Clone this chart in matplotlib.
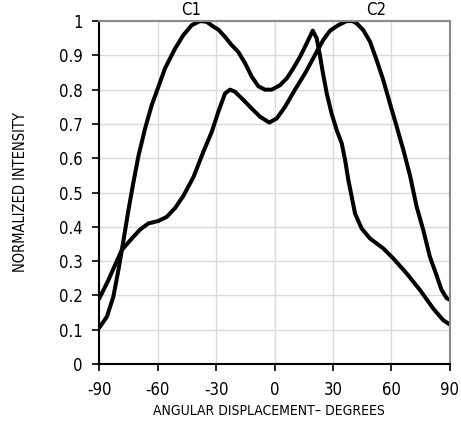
import matplotlib
matplotlib.use("Agg")
import matplotlib.pyplot as plt

plt.rcParams['font.family'] = ['DejaVu Sans']
plt.rcParams['font.stretch'] = 'condensed'
plt.rcParams['axes.unicode_minus'] = False

# angle (deg) and normalized intensity
c1_x = [-90, -86, -82.7, -80.1, -77.5, -75, -72.4, -69.8, -66.4, -63, -59.6, -56.2, -51,
        -46.8, -42.5, -38.2, -34.8, -31.4, -28.8, -25.4, -22, -18.6, -15.1, -11.7, -8.3,
        -4.9, -1.4, 2.8, 6.3, 9.6, 13.1, 16.5, 19.6, 21.6, 23.3, 25, 26.8, 29.3, 31.9,
        34.5, 36.2, 37.9, 39.6, 41.3, 44.7, 49, 55.8, 60.9, 67.8, 74.6, 81.4, 86.5, 90]
c1_y = [0.105, 0.138, 0.196, 0.274, 0.361, 0.447, 0.53, 0.607, 0.687, 0.755, 0.808, 0.862,
        0.92, 0.959, 0.988, 1.0, 0.998, 0.984, 0.975, 0.954, 0.93, 0.91, 0.877, 0.838,
        0.81, 0.80, 0.80, 0.813, 0.833, 0.862, 0.896, 0.935, 0.972, 0.95, 0.90, 0.843,
        0.789, 0.73, 0.682, 0.643, 0.595, 0.536, 0.488, 0.439, 0.395, 0.366, 0.337,
        0.308, 0.264, 0.216, 0.162, 0.128, 0.115]

c2_x = [-90, -85.2, -81.8, -78.4, -73.2, -69, -64.7, -59.6, -55.3, -51, -46.8, -41.6,
        -36.5, -32.2, -28.8, -25.4, -22.8, -20.3, -16, -11.7, -7.4, -2.7, 1.1, 5.4, 10.5,
        15.6, 21.6, 25, 28.5, 32.7, 37, 40, 42.2, 45.5, 49, 52.4, 55.8, 59.2, 62.7, 66.1,
        69.5, 72.9, 76.3, 79.7, 83.1, 85.7, 88.3, 90]
c2_y = [0.19, 0.245, 0.289, 0.332, 0.366, 0.392, 0.41, 0.417, 0.429, 0.455, 0.49, 0.545,
        0.619, 0.677, 0.736, 0.789, 0.80, 0.794, 0.77, 0.745, 0.721, 0.704, 0.716, 0.75,
        0.80, 0.847, 0.91, 0.945, 0.972, 0.988, 1.0, 1.0, 0.993, 0.974, 0.94, 0.886,
        0.828, 0.76, 0.692, 0.624, 0.55, 0.459, 0.391, 0.313, 0.259, 0.216, 0.192, 0.187]

xticks = [-90, -60, -30, 0, 30, 60, 90]
yticks = [0, 0.1, 0.2, 0.3, 0.4, 0.5, 0.6, 0.7, 0.8, 0.9, 1]
ylabels = ['0', '0.1', '0.2', '0.3', '0.4', '0.5', '0.6', '0.7', '0.8', '0.9', '1']

fig = plt.figure(figsize=(4.61, 4.30), dpi=100)
ax = fig.add_axes([0.215, 0.1535, 0.761, 0.7975])

ax.plot(c1_x, c1_y, color='black', lw=2.9, solid_joinstyle='round', solid_capstyle='round')
ax.plot(c2_x, c2_y, color='black', lw=2.9, solid_joinstyle='round', solid_capstyle='round')

ax.set_xlim(-90, 90)
ax.set_ylim(0, 1)
ax.set_xticks(xticks)
ax.set_yticks(yticks)
ax.set_yticklabels(ylabels)
ax.grid(True, color='#dadada', lw=1)
ax.set_axisbelow(True)
ax.tick_params(labelsize=12, length=5, width=1.2)
ax.tick_params(axis='x', pad=7)
ax.tick_params(axis='y', pad=7)

for s in ['left', 'bottom']:
    ax.spines[s].set_color('black')
    ax.spines[s].set_linewidth(1.5)
for s in ['top', 'right']:
    ax.spines[s].set_color('#8a8a8a')
    ax.spines[s].set_linewidth(1.5)

ax.text(-43, 1.006, 'C1', ha='center', va='bottom', fontsize=12)
ax.text(52, 1.006, 'C2', ha='center', va='bottom', fontsize=12)

fig.text(0.584, 0.045, 'ANGULAR DISPLACEMENT\u2013 DEGREES', ha='center', va='center', fontsize=10)
fig.text(0.045, 0.553, 'NORMALIZED INTENSITY', rotation=90, ha='center', va='center', fontsize=10.5)

fig.savefig('out.png', dpi=100)
